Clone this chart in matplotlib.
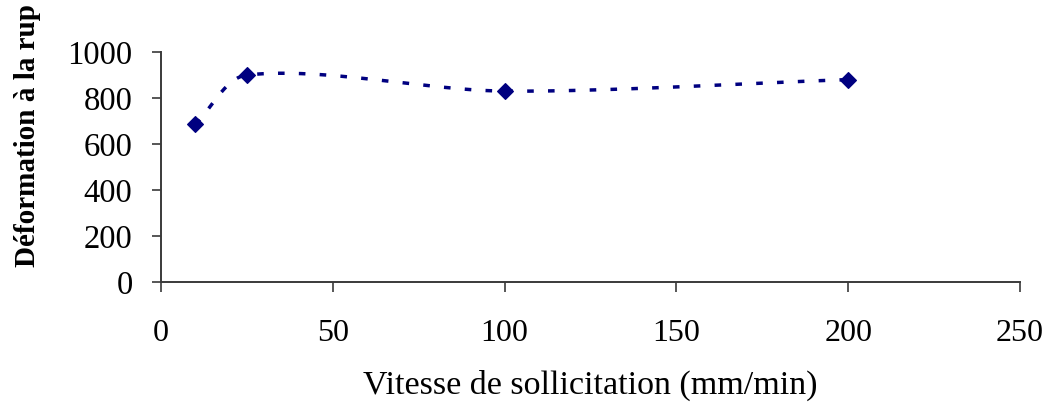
import numpy as np
import matplotlib
matplotlib.use("Agg")
import matplotlib.pyplot as plt

# Strain at break versus loading speed
vitesse = [10, 25, 100, 200]          # mm/min
deformation = [685, 900, 830, 880]    # %

x_ticks = [0, 50, 100, 150, 200, 250]
y_ticks = [0, 200, 400, 600, 800, 1000]

plt.rcParams['font.family'] = ['Liberation Serif', 'DejaVu Serif']

W, H = 1046, 407
fig = plt.figure(figsize=(W / 100, H / 100), dpi=100)
ax = fig.add_axes([161 / W, (H - 282) / H, 859 / W, 230 / H])

ax.set_xlim(0, 250)
ax.set_ylim(0, 1000)
ax.set_xticks(x_ticks)
ax.set_yticks(y_ticks)

navy = '#000080'
axis_col = '#3a3a3a'


def smooth_curve(ax, xs, ys, k=0.9, n=60):
    """Smoothed connecting line: cubic Bezier segments built in display
    space, tangents from neighbouring points, handle length tied to the
    segment length."""
    pts = ax.transData.transform(np.column_stack([xs, ys]))
    m = len(pts)
    tang = []
    for i in range(m):
        a = pts[i - 1] if i > 0 else pts[i]
        b = pts[i + 1] if i + 1 < m else pts[i]
        d = b - a
        tang.append(d / np.hypot(*d))
    out = []
    t = np.linspace(0, 1, n)[:, None]
    for i in range(m - 1):
        p1, p2 = pts[i], pts[i + 1]
        L = np.hypot(*(p2 - p1))
        c1 = p1 + tang[i] * L / 3 * k
        c2 = p2 - tang[i + 1] * L / 3 * k
        seg = ((1 - t) ** 3) * p1 + 3 * ((1 - t) ** 2) * t * c1 \
            + 3 * (1 - t) * t ** 2 * c2 + t ** 3 * p2
        out.append(seg if i == 0 else seg[1:])
    curve = np.vstack(out)
    data = ax.transData.inverted().transform(curve)
    return data[:, 0], data[:, 1]


cx, cy = smooth_curve(ax, vitesse, deformation)
ax.plot(cx, cy, color=navy, lw=2.5, linestyle=(0, (1.9, 4.1)),
        dash_capstyle='butt', zorder=2)
ax.plot(vitesse, deformation, linestyle='none', marker='D', ms=8.0,
        color=navy, mec=navy, mew=0.8, zorder=3)

for side in ('top', 'right'):
    ax.spines[side].set_visible(False)
for side in ('left', 'bottom'):
    ax.spines[side].set_color(axis_col)
    ax.spines[side].set_linewidth(1.4)

ax.tick_params(axis='y', direction='out', length=6.5, width=1.2,
               color=axis_col, pad=14, labelsize=23.5, labelcolor='black')
ax.tick_params(axis='x', direction='out', length=7.5, width=1.2,
               color=axis_col, pad=19, labelsize=23, labelcolor='black')

ax.set_xlabel('Vitesse de sollicitation (mm/min)', fontsize=24.5,
              va='center')
ax.xaxis.set_label_coords(0.5, (282 - 385) / 230)

fig.text(28 / W, (H - 267) / H, 'Déformation à la rup', rotation=90,
         ha='center', va='bottom', fontsize=21, fontweight='bold')

fig.savefig('out.png', dpi=100)
